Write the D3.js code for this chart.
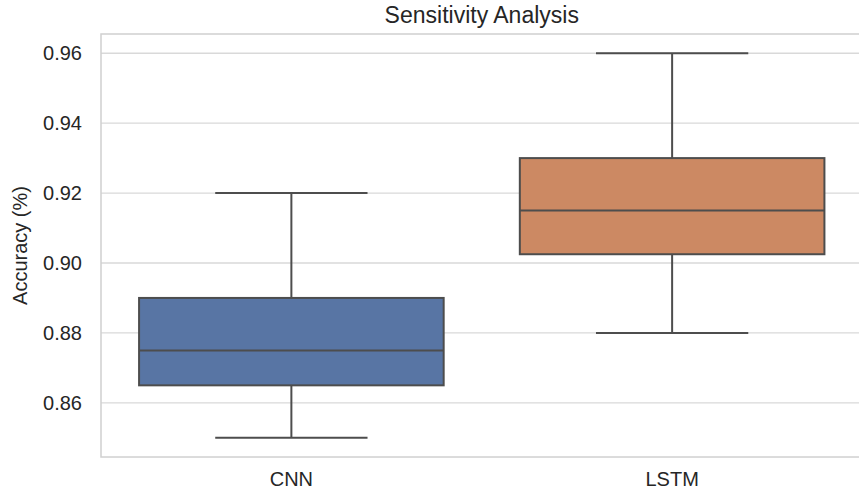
<!DOCTYPE html>
<html>
<head>
<meta charset="utf-8">
<script src="https://d3js.org/d3.v7.min.js"></script>
<style>
  body { margin: 0; background: #fff; }
  svg { font-family: "Liberation Sans", Arial, sans-serif; }
</style>
</head>
<body>
<div id="chart"></div>
<script>
// box stats
var models = ["CNN", "LSTM"];
var whiskerLow = [0.85, 0.88];
var q1 = [0.865, 0.9025];
var median = [0.875, 0.915];
var q3 = [0.89, 0.93];
var whiskerHigh = [0.92, 0.96];
var boxColors = ["#5875a4", "#cc8963"];
var yTicks = [0.86, 0.88, 0.90, 0.92, 0.94, 0.96];

var width = 859, height = 491;
var margin = {top: 34, right: -3.5, bottom: 34, left: 101};

var svg = d3.select("#chart").append("svg")
  .attr("width", width)
  .attr("height", height);

var x = d3.scaleBand()
  .domain(models)
  .range([margin.left, width - margin.right])
  .paddingInner(0.2)
  .paddingOuter(0.1);

var y = d3.scaleLinear()
  .domain([0.8445, 0.9655])
  .range([height - margin.bottom, margin.top]);

// grid
svg.append("g")
  .selectAll("line")
  .data(yTicks)
  .enter()
  .append("line")
  .attr("x1", margin.left)
  .attr("x2", width - margin.right)
  .attr("y1", function(d) { return y(d); })
  .attr("y2", function(d) { return y(d); })
  .attr("stroke", "#d9d9d9")
  .attr("stroke-width", 1.3);

// spines
svg.append("rect")
  .attr("x", margin.left)
  .attr("y", margin.top)
  .attr("width", width - margin.right - margin.left)
  .attr("height", height - margin.bottom - margin.top)
  .attr("fill", "none")
  .attr("stroke", "#d0d0d0")
  .attr("stroke-width", 1.5);

var yAxis = svg.append("g")
  .attr("transform", "translate(" + margin.left + ",0)")
  .call(d3.axisLeft(y).tickValues(yTicks).tickFormat(d3.format(".2f")).tickSize(0).tickPadding(19));
yAxis.select(".domain").remove();
yAxis.selectAll("text").attr("font-size", 20).attr("fill", "#262626");

var xAxis = svg.append("g")
  .attr("transform", "translate(0," + (height - margin.bottom) + ")")
  .call(d3.axisBottom(x).tickSize(0).tickPadding(15));
xAxis.select(".domain").remove();
xAxis.selectAll("text").attr("font-size", 20).attr("fill", "#262626");

var line = "#4d4d4d";
var boxes = svg.append("g")
  .selectAll("g")
  .data(models)
  .enter()
  .append("g");

var bw = x.bandwidth();

// whiskers
boxes.append("line")
  .attr("x1", function(d) { return x(d) + bw / 2; })
  .attr("x2", function(d) { return x(d) + bw / 2; })
  .attr("y1", function(d, i) { return y(whiskerLow[i]); })
  .attr("y2", function(d, i) { return y(q1[i]); })
  .attr("stroke", line).attr("stroke-width", 2);
boxes.append("line")
  .attr("x1", function(d) { return x(d) + bw / 2; })
  .attr("x2", function(d) { return x(d) + bw / 2; })
  .attr("y1", function(d, i) { return y(q3[i]); })
  .attr("y2", function(d, i) { return y(whiskerHigh[i]); })
  .attr("stroke", line).attr("stroke-width", 2);

// caps
[whiskerLow, whiskerHigh].forEach(function(arr) {
  boxes.append("line")
    .attr("x1", function(d) { return x(d) + bw / 4; })
    .attr("x2", function(d) { return x(d) + bw * 3 / 4; })
    .attr("y1", function(d, i) { return y(arr[i]); })
    .attr("y2", function(d, i) { return y(arr[i]); })
    .attr("stroke", line).attr("stroke-width", 2);
});

// boxes
boxes.append("rect")
  .attr("x", function(d) { return x(d); })
  .attr("y", function(d, i) { return y(q3[i]); })
  .attr("width", bw)
  .attr("height", function(d, i) { return y(q1[i]) - y(q3[i]); })
  .attr("fill", function(d, i) { return boxColors[i]; })
  .attr("stroke", line).attr("stroke-width", 2);

// medians
boxes.append("line")
  .attr("x1", function(d) { return x(d); })
  .attr("x2", function(d) { return x(d) + bw; })
  .attr("y1", function(d, i) { return y(median[i]); })
  .attr("y2", function(d, i) { return y(median[i]); })
  .attr("stroke", line).attr("stroke-width", 2);

svg.append("text")
  .attr("x", (margin.left + width - margin.right) / 2)
  .attr("y", 23)
  .attr("text-anchor", "middle")
  .attr("font-size", 23)
  .attr("fill", "#262626")
  .text("Sensitivity Analysis");

svg.append("text")
  .attr("transform", "translate(27," + ((margin.top + height - margin.bottom) / 2) + ") rotate(-90)")
  .attr("text-anchor", "middle")
  .attr("font-size", 20)
  .attr("fill", "#262626")
  .text("Accuracy (%)");
</script>
</body>
</html>
